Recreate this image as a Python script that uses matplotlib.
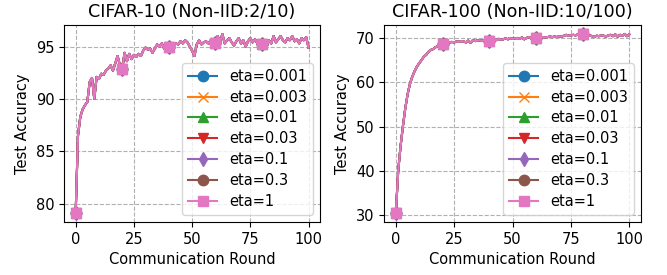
import matplotlib
matplotlib.use("Agg")
import matplotlib.pyplot as plt
import numpy as np

rounds = list(range(101))

etas = ["0.001", "0.003", "0.01", "0.03", "0.1", "0.3", "1"]
markers = ["o", "x", "^", "v", "d", "o", "s"]

cifar10_acc = [
    79.1, 86.5, 88.3, 89.0, 89.4, 89.7, 91.6, 92.0, 90.0, 92.1,
    91.9, 92.4, 92.3, 92.7, 92.9, 93.2, 92.7, 93.4, 94.1, 93.2,
    92.9, 94.4, 93.6, 94.3, 93.8, 94.2, 94.0, 94.3, 94.1, 94.6,
    94.9, 94.7, 94.8, 94.4, 94.8, 95.2, 95.0, 95.3, 94.8, 95.2,
    95.0, 94.7, 95.1, 95.3, 95.2, 95.5, 95.3, 95.6, 95.4, 95.0,
    94.6, 94.1, 95.2, 95.6, 95.2, 95.4, 95.5, 95.3, 95.6, 95.2,
    95.3, 96.0, 95.4, 96.2, 95.3, 95.6, 95.8, 95.4, 95.1, 95.5,
    95.8, 95.3, 95.6, 95.0, 95.5, 95.8, 95.4, 95.7, 95.3, 95.6,
    95.2, 95.5, 95.0, 95.6, 95.3, 96.0, 95.4, 95.7, 96.0, 95.6,
    95.4, 95.8, 95.6, 96.0, 95.5, 95.7, 95.3, 95.8, 95.6, 95.9,
    94.9,
]

cifar100_acc = [
    30.5, 40.0, 45.5, 50.0, 54.0, 57.2, 59.6, 61.2, 62.5, 63.5,
    64.3, 65.0, 65.8, 66.2, 66.9, 67.3, 67.5, 67.9, 68.2, 68.4,
    68.6, 68.8, 68.9, 69.0, 69.1, 69.0, 69.2, 69.1, 69.3, 69.2,
    69.0, 69.4, 68.9, 69.5, 69.3, 69.4, 69.5, 69.3, 69.6, 69.5,
    69.4, 69.6, 69.7, 69.5, 69.8, 69.6, 69.7, 69.9, 69.7, 70.0,
    69.8, 69.9, 70.0, 69.8, 70.1, 69.7, 70.0, 70.2, 69.9, 70.0,
    70.0, 70.1, 70.0, 70.2, 70.1, 70.2, 70.3, 70.2, 70.3, 70.2,
    70.4, 70.3, 70.5, 70.7, 70.5, 70.6, 70.7, 70.6, 70.8, 70.7,
    70.8, 70.6, 70.5, 70.6, 70.4, 70.2, 70.5, 70.4, 70.6, 70.5,
    70.3, 70.6, 70.7, 70.4, 70.8, 70.3, 70.7, 70.5, 70.9, 70.4,
    70.8,
]

titles = ["CIFAR-10 (Non-IID:2/10)", "CIFAR-100 (Non-IID:10/100)"]
datasets = [cifar10_acc, cifar100_acc]

plt.rcParams["font.size"] = 10.5

fig = plt.figure(figsize=(6.67, 2.75), dpi=100)
ax1 = fig.add_axes([0.096, 0.193, 0.384, 0.716])
ax2 = fig.add_axes([0.576, 0.193, 0.385, 0.716])

for ax, title, acc in zip([ax1, ax2], titles, datasets):
    for eta, m in zip(etas, markers):
        ax.plot(rounds, acc, marker=m, markevery=slice(0, 100, 20),
                markersize=7.5, linewidth=1.5, label=f"eta={eta}")
    ax.set_title(title, fontsize=12.6)
    ax.set_xlabel("Communication Round", fontsize=10.5)
    ax.set_ylabel("Test Accuracy", fontsize=10.5)
    ax.grid(True, linestyle="--", color="#b0b0b0", linewidth=0.8)
    ax.set_xticks([0, 25, 50, 75, 100])
    ax.tick_params(labelsize=10.5)
    ax.legend(loc="lower right", fontsize=10.5, labelspacing=0.4)

ax1.set_yticks([80, 85, 90, 95])
ax2.set_yticks([30, 40, 50, 60, 70])

fig.savefig("out.png", dpi=100)
